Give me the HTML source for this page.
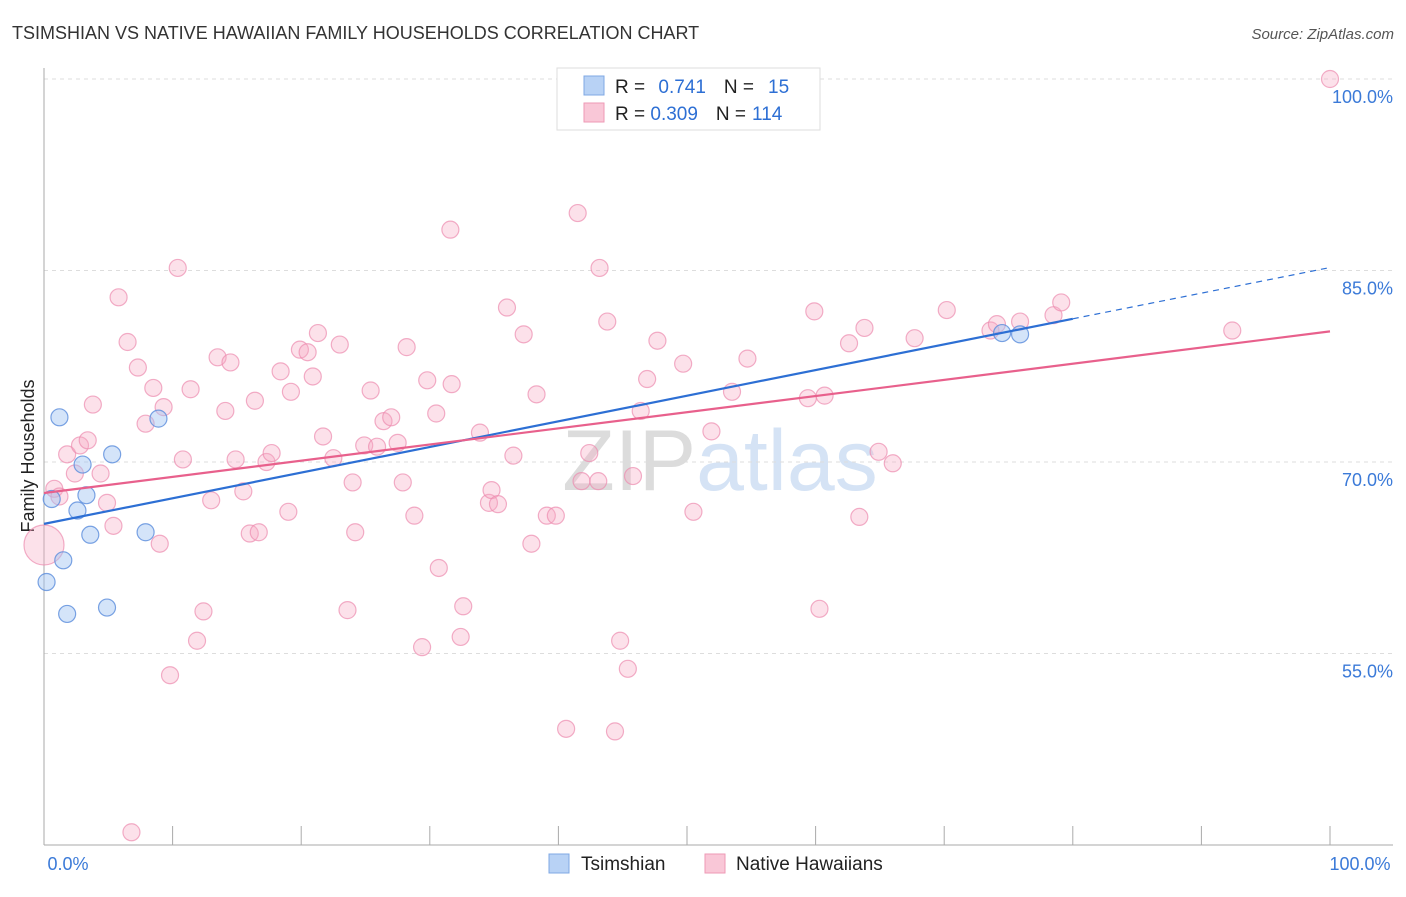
<!DOCTYPE html>
<html><head><meta charset="utf-8"><style>
body{margin:0;background:#fff;font-family:"Liberation Sans",sans-serif}
svg text{font-family:"Liberation Sans",sans-serif}
</style></head><body>
<svg id="chart" width="1406" height="892" xmlns="http://www.w3.org/2000/svg">
<text x="12" y="39" font-size="18" fill="#333">TSIMSHIAN VS NATIVE HAWAIIAN FAMILY HOUSEHOLDS CORRELATION CHART</text>
<text x="1394" y="39" font-size="15" fill="#555" text-anchor="end" font-style="italic">Source: ZipAtlas.com</text>
<text x="34" y="456" font-size="18" fill="#222" text-anchor="middle" transform="rotate(-90 34 456)">Family Households</text>
<text x="720" y="490" font-size="86" fill="#e6e6e6" text-anchor="middle" font-family="Liberation Serif"><tspan fill="#dcdcdc">ZIP</tspan><tspan fill="#d5e3f5">atlas</tspan></text>
<g id="grid"></g><g id="axes"></g><g id="pts"></g><g id="lines"></g>
<g>
<rect x="557" y="68" width="263" height="62" fill="#fff" stroke="#ddd"/>
<rect x="584" y="76" width="20" height="19" fill="#b8d2f5" stroke="#7fa8e4"/>
<rect x="584" y="103" width="20" height="19" fill="#f9c7d7" stroke="#ee9ab6"/>
<text x="615" y="93" font-size="19" fill="#222">R = <tspan fill="#2d6fd4" dx="8">0.741</tspan><tspan dx="18">N =</tspan><tspan fill="#2d6fd4" dx="14">15</tspan></text>
<text x="615" y="120" font-size="19" fill="#222">R = <tspan fill="#2d6fd4">0.309</tspan><tspan dx="18">N =</tspan><tspan fill="#2d6fd4" dx="6">114</tspan></text>
</g>
<g>
<rect x="549" y="854" width="20" height="19" fill="#b8d2f5" stroke="#7fa8e4"/>
<text x="581" y="870" font-size="19" fill="#222">Tsimshian</text>
<rect x="705" y="854" width="20" height="19" fill="#f9c7d7" stroke="#ee9ab6"/>
<text x="736" y="870" font-size="19" fill="#222">Native Hawaiians</text>
</g>
</svg>
<script>
const blueX=[1.2,0.2,0.6,1.5,1.8,2.6,3.0,3.3,3.6,4.9,5.3,7.9,8.9,74.5,75.9];
const blueY=[73.5,60.6,67.1,62.3,58.1,66.2,69.8,67.4,64.3,58.6,70.6,64.5,73.4,80.1,80.0];
const pinkX=[100,0,0.8,1.2,1.8,2.4,2.8,3.4,3.8,4.4,4.9,5.4,5.8,6.5,7.3,7.9,8.5,9.0,9.3,9.8,10.4,10.8,11.4,11.9,12.4,13.0,13.5,14.1,14.5,14.9,15.5,16.0,16.4,16.7,17.3,17.7,18.4,19.0,19.2,19.9,20.5,20.9,21.3,21.7,22.5,23.0,23.6,24.0,24.2,24.9,25.4,25.9,26.4,27.0,27.5,27.9,28.2,28.8,29.4,29.8,30.5,30.7,31.6,31.7,32.4,32.6,33.9,34.6,34.8,35.3,36.0,36.5,37.3,37.9,38.3,39.1,39.8,40.6,41.5,41.8,42.4,43.1,43.2,43.8,44.4,44.8,45.4,45.8,46.4,46.9,47.7,49.7,50.5,51.9,53.5,54.7,59.4,59.9,60.3,60.7,62.6,63.4,63.8,64.9,66.0,67.7,70.2,73.6,74.1,75.9,78.5,79.1,92.4,6.8];
const pinkY=[100,63.5,67.9,67.3,70.6,69.1,71.3,71.7,74.5,69.1,66.8,65.0,82.9,79.4,77.4,73.0,75.8,63.6,74.3,53.3,85.2,70.2,75.7,56.0,58.3,67.0,78.2,74.0,77.8,70.2,67.7,64.4,74.8,64.5,70.0,70.7,77.1,66.1,75.5,78.8,78.6,76.7,80.1,72.0,70.3,79.2,58.4,68.4,64.5,71.3,75.6,71.2,73.2,73.5,71.5,68.4,79.0,65.8,55.5,76.4,73.8,61.7,88.2,76.1,56.3,58.7,72.3,66.8,67.8,66.7,82.1,70.5,80.0,63.6,75.3,65.8,65.8,49.1,89.5,68.5,70.7,68.5,85.2,81.0,48.9,56.0,53.8,68.9,74.0,76.5,79.5,77.7,66.1,72.4,75.5,78.1,75.0,81.8,58.5,75.2,79.3,65.7,80.5,70.8,69.9,79.7,81.9,80.3,80.8,81.0,81.5,82.5,80.3,41.0];
const yTicks=[55,70,85,100];
const yTickLabels=["55.0%","70.0%","85.0%","100.0%"];
const xTicks=[0,10,20,30,40,50,60,70,80,90,100];
const xTickLabels=["0.0%","100.0%"];
const NS="http://www.w3.org/2000/svg";
const sx=v=>44+v*12.86, sy=v=>79+(100-v)*12.767;
function mk(tag,attrs,parent){const e=document.createElementNS(NS,tag);for(const k in attrs)e.setAttribute(k,attrs[k]);document.getElementById(parent).appendChild(e);return e;}
yTicks.forEach((t,i)=>{
 const g=mk('line',{x1:44,x2:1393,y1:sy(t),y2:sy(t),stroke:'#ddd','stroke-dasharray':'4,4'},'grid');
 
 
 const l=mk('text',{x:1393,y:sy(t)+24,'font-size':18,fill:'#3b7ad8','text-anchor':'end'},'grid');
 l.textContent=yTickLabels[i];
 
 
});
const ax=mk('line',{x1:44,x2:44,y1:68,y2:845,stroke:'#aaa'},'axes');


const bx=mk('line',{x1:44,x2:1393,y1:845,y2:845,stroke:'#aaa'},'axes');


xTicks.forEach(t=>{
 const k=mk('line',{x1:sx(t),x2:sx(t),y1:826,y2:845,stroke:'#aaa'},'axes');
 
 
});
[[0,68],[100,1360]].forEach((p,i)=>{
 const l=mk('text',{x:p[1],y:870,'font-size':18,fill:'#3b7ad8','text-anchor':'middle'},'axes');
 l.textContent=xTickLabels[i];
 
 
});
pinkX.forEach((x,i)=>{
 const c=mk('circle',{cx:sx(x),cy:sy(pinkY[i]),r:(i==1?20:8.5),fill:'rgba(246,170,196,0.35)',stroke:'rgba(236,140,175,0.7)','stroke-width':1.2},'pts');
 
 
});
blueX.forEach((x,i)=>{
 const c=mk('circle',{cx:sx(x),cy:sy(blueY[i]),r:8.5,fill:'rgba(160,196,242,0.45)',stroke:'rgba(90,140,220,0.8)','stroke-width':1.2},'pts');
 
 
});
function fit(X,Y){const n=X.length;let mx=0,my=0;X.forEach((x,i)=>{mx+=x;my+=Y[i];});mx/=n;my/=n;let a=0,b=0;X.forEach((x,i)=>{a+=(x-mx)*(Y[i]-my);b+=(x-mx)*(x-mx);});const s=a/b;return [my-s*mx,s];}
const [bi,bs]=fit(blueX,blueY),[pi,ps]=fit(pinkX,pinkY);
const t1=mk('line',{x1:sx(0),y1:sy(bi),x2:sx(80),y2:sy(bi+bs*80),stroke:'#2d6fd4','stroke-width':2.2},'lines');


const t2=mk('line',{x1:sx(80),y1:sy(bi+bs*80),x2:sx(100),y2:sy(bi+bs*100),stroke:'#2d6fd4','stroke-width':1.2,'stroke-dasharray':'6,5'},'lines');


const t3=mk('line',{x1:sx(0),y1:sy(pi),x2:sx(100),y2:sy(pi+ps*100),stroke:'#e8608c','stroke-width':2.2},'lines');


</script>
</body></html>
